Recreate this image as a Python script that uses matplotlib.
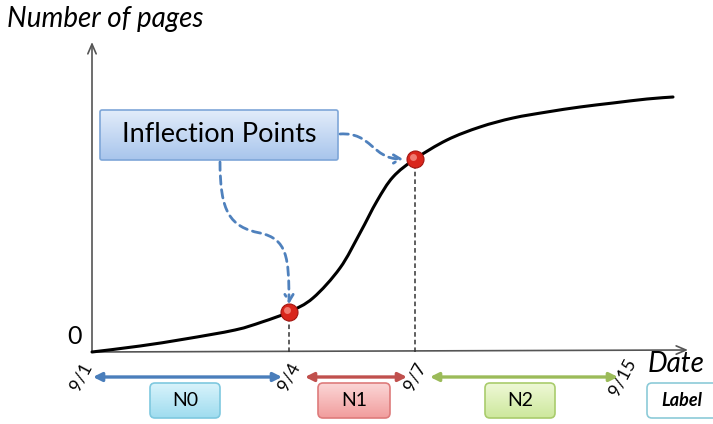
import numpy as np
import matplotlib
matplotlib.use("Agg")
import matplotlib.pyplot as plt
from matplotlib.patches import FancyBboxPatch, FancyArrowPatch, PathPatch
from matplotlib.path import Path
from matplotlib.colors import LinearSegmentedColormap

plt.rcParams['font.family'] = ['Lato', 'DejaVu Sans']

# curve: time position (schematic) vs number of pages
curve_t = [0, 48, 93, 143, 170, 197, 221, 248, 268, 285, 301, 323,
           355, 388, 421, 455, 488, 521, 555, 581]
curve_p = [0, 6, 13, 22, 30, 40, 54, 84, 119, 151, 175, 193,
           212, 225, 234, 240, 245, 249, 253, 255]

# inflection points
infl_t = [197, 323]
infl_p = [40, 193]

# dates on the x axis
date_labels = ["9/1", "9/4", "9/7", "9/15"]
date_pos = [0, 197, 323, 530]

# periods between dates
period_names = ["N0", "N1", "N2"]
period_colors = ["#4a7ebb", "#c0504d", "#9bbb59"]
period_fill = [("#d8f3fb", "#9fdcef", "#7ec8df"),
               ("#fbd6d6", "#f19d9d", "#de7b7b"),
               ("#eef8d6", "#cde89c", "#a9cc6c")]

fig = plt.figure(figsize=(7.13, 4.24), dpi=100)
ax = fig.add_axes([0, 0, 1, 1])
ax.axis("off")


def gbox(x0, x1, y0, y1, c_top, c_bot, edge, r=5, lw=1.2, z=3):
    patch = FancyBboxPatch((x0, y0), x1 - x0, y1 - y0,
                           boxstyle=f"round,pad=0,rounding_size={r}",
                           fc="none", ec=edge, lw=lw, zorder=z + 1)
    ax.add_patch(patch)
    cm = LinearSegmentedColormap.from_list("g", [c_bot, c_top])
    im = ax.imshow(np.linspace(0, 1, 64)[:, None], extent=(x0, x1, y0, y1),
                   origin="lower", cmap=cm, aspect="auto", zorder=z)
    im.set_clip_path(patch)


def smooth_path(xs, ys):
    # catmull-rom through the read points, drawn as bezier segments
    pts = np.column_stack([xs, ys]).astype(float)
    verts = [pts[0]]
    codes = [Path.MOVETO]
    n = len(pts)
    for i in range(n - 1):
        p0 = pts[max(i - 1, 0)]
        p1, p2 = pts[i], pts[i + 1]
        p3 = pts[min(i + 2, n - 1)]
        verts += [p1 + (p2 - p0) / 6, p2 - (p3 - p1) / 6, p2]
        codes += [Path.CURVE4] * 3
    return Path(verts, codes)


axc = "#555555"
# axes with arrows
ax.annotate("", xy=(0, 310), xytext=(0, 0),
            arrowprops=dict(arrowstyle="->,head_length=0.7,head_width=0.3",
                            color=axc, lw=1.2, shrinkA=0, shrinkB=0))
ax.annotate("", xy=(596, 2), xytext=(0, 0),
            arrowprops=dict(arrowstyle="->,head_length=0.7,head_width=0.3",
                            color=axc, lw=1.2, shrinkA=0, shrinkB=0))

ax.text(-85, 333, "Number of pages", fontsize=20, style="italic",
        ha="left", va="center")
ax.text(-17, 15, "0", fontsize=18, ha="center", va="center")
ax.text(584, -12, "Date", fontsize=20, style="italic", ha="center", va="center")

# curve
ax.add_patch(PathPatch(smooth_path(curve_t, curve_p), fc="none", ec="black",
                       lw=2.2, capstyle="round", zorder=5))

# dashed drop lines
for t, p in zip(infl_t, infl_p):
    ax.plot([t, t], [0, p], color="#333333", lw=1.1, dashes=(3, 2), zorder=4)

ax.scatter(infl_t, infl_p, s=150, color="#d9261c", edgecolor="#a31510",
           lw=0.8, zorder=7)
ax.scatter([t - 2 for t in infl_t], [p + 2 for p in infl_p], s=25,
           color="#f07a70", lw=0, zorder=8)

# date labels
for lab, t in zip(date_labels, date_pos):
    x = t - 11 if t == 0 else t
    ax.text(x, -25, lab, fontsize=13, rotation=62, ha="center", va="center")

# period arrows and boxes
arr_x = [(1, 190), (213, 315), (338, 526)]
box_x = [(58, 128), (226, 298), (393, 463)]
for name, col, fill, (a, b), (bx0, bx1) in zip(period_names, period_colors,
                                               period_fill, arr_x, box_x):
    ax.annotate("", xy=(b, -25), xytext=(a, -25),
                arrowprops=dict(arrowstyle="<|-|>,head_length=0.5,head_width=0.25",
                                color=col, lw=2.4, shrinkA=0, shrinkB=0))
    gbox(bx0, bx1, -66, -31, fill[0], fill[1], fill[2])
    ax.text((bx0 + bx1) / 2, -48.5, name, fontsize=14, ha="center",
            va="center", zorder=6)

gbox(555, 628, -66, -31, "#ffffff", "#ffffff", "#8ccbd8")
ax.text(590, -48.5, "Label", fontsize=13, style="italic", fontweight="bold",
        ha="center", va="center", zorder=6)

# inflection points callout
gbox(8, 246, 192, 242, "#e2ecfa", "#a8c5ec", "#7ea6d8", r=2)
ax.text(127, 217, "Inflection Points", fontsize=19.5, ha="center", va="center",
        zorder=6)

dash_col = "#4f81bd"
p1 = Path([(128, 190), (128, 140), (138, 125), (168, 119),
           (195, 113), (197, 95), (197, 48)],
          [Path.MOVETO, Path.CURVE4, Path.CURVE4, Path.CURVE4,
           Path.CURVE4, Path.CURVE4, Path.CURVE4])
p2 = Path([(248, 218), (280, 220), (280, 193), (311, 193)],
          [Path.MOVETO, Path.CURVE4, Path.CURVE4, Path.CURVE4])
for pth in (p1, p2):
    ax.add_patch(FancyArrowPatch(path=pth,
                                 arrowstyle="->,head_length=5,head_width=3",
                                 color=dash_col, lw=2, linestyle=(0, (3, 2)),
                                 zorder=6))

ax.set_xlim(-92, 621)
ax.set_ylim(-72, 352)
fig.savefig("out.png", dpi=100)
